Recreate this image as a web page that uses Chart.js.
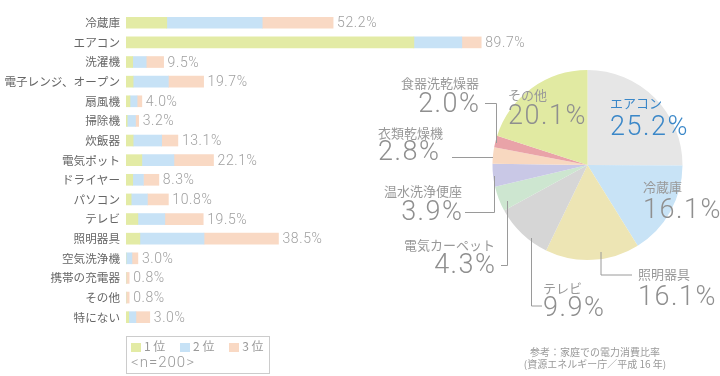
<!DOCTYPE html>
<html>
<head>
<meta charset="utf-8">
<script src="https://cdn.jsdelivr.net/npm/chart.js@4/dist/chart.umd.min.js"></script>
<style>
  body { margin: 0; background: #fff; font-family: 'Noto Sans CJK JP', sans-serif; }
  #wrap { position: relative; width: 720px; height: 376px; overflow: hidden; }
  canvas { position: absolute; left: 0; top: 0; }
  #legend { position: absolute; left: 126px; top: 336px; width: 142px; height: 36px; border: 1px solid #ccc; color: #999; }
  #legend .row { position: absolute; left: 4px; top: 2px; font-size: 12px; line-height: 14px; white-space: nowrap; }
  #legend .sw { display: inline-block; width: 10px; height: 9px; margin-right: 3px; vertical-align: -1px; }
  #legend .it { margin-right: 12px; }
  #legend .n { position: absolute; left: 4px; top: 16px; font-size: 15px; line-height: 18px; letter-spacing: 1px; color: #999; font-family: Roboto, sans-serif; font-weight: 300; }
  #note { position: absolute; left: 510px; top: 346px; width: 170px; text-align: center; font-size: 10px; line-height: 12px; color: #999; }
</style>
</head>
<body>
<div id="wrap">
  <canvas id="barChart" width="720" height="376"></canvas>
  <canvas id="pieChart" width="720" height="376"></canvas>
  <div id="legend">
    <div class="row">
      <span class="it"><span class="sw" style="background:#e3eba5"></span>1 位</span>
      <span class="it"><span class="sw" style="background:#c7e2f6"></span>2 位</span>
      <span class="it" style="margin-right:0"><span class="sw" style="background:#f9d9c4"></span>3 位</span>
    </div>
    <div class="n">&lt;n=200&gt;</div>
  </div>
  <div id="note">参考：家庭での電力消費比率<br>(資源エネルギー庁／平成 16 年)</div>
</div>
<script>
var categories = ['冷蔵庫', 'エアコン', '洗濯機', '電子レンジ、オープン', '扇風機', '掃除機', '炊飯器', '電気ポット',
  'ドライヤー', 'パソコン', 'テレビ', '照明器具', '空気洗浄機', '携帯の充電器', 'その他', '特にない'];
var rank1 = [10.3, 72.7, 1.7, 1.8, 1.0, 0.3, 1.8, 4.0, 1.7, 1.3, 3.0, 3.5, 0, 0, 0, 0.7];
var rank2 = [24.1, 12.1, 3.4, 8.9, 1.8, 2.1, 7.2, 8.1, 2.7, 4.1, 6.8, 16.2, 1.5, 0, 0, 1.8];
var rank3 = [17.9, 4.9, 4.4, 8.9, 1.2, 0.8, 4.1, 10.0, 3.9, 5.3, 9.7, 18.8, 1.5, 0.8, 0.8, 3.5];
var totalLabels = ['52.2%', '89.7%', '9.5%', '19.7%', '4.0%', '3.2%', '13.1%', '22.1%',
  '8.3%', '10.8%', '19.5%', '38.5%', '3.0%', '0.8%', '0.8%', '3.0%'];

var pieLabels = ['エアコン', '冷蔵庫', '照明器具', 'テレビ', '電気カーペット', '温水洗浄便座', '衣類乾燥機', '食器洗乾燥器', 'その他'];
var pieValues = [25.2, 16.1, 16.1, 9.9, 4.3, 3.9, 2.8, 2.0, 20.1];
var pieColors = ['#e6e6e6', '#c8e3f6', '#ede5b4', '#d6d6d6', '#cde6d0', '#c9c8e6', '#f8d8c0', '#e9a3a8', '#e1eaa2'];

Chart.defaults.font.family = "'Noto Sans CJK JP', sans-serif";
var numFont = "Roboto, 'Noto Sans CJK JP', sans-serif";

// total label at the end of each bar
var totalsPlugin = {
  id: 'totals',
  afterDatasetsDraw: function(chart) {
    var ctx = chart.ctx;
    var xs = chart.scales.x, ys = chart.scales.y;
    ctx.save();
    ctx.font = '300 14px ' + numFont;
    ctx.letterSpacing = '0.6px';
    ctx.fillStyle = '#a0a0a0';
    ctx.textBaseline = 'middle';
    for (var i = 0; i < categories.length; i++) {
      var t = rank1[i] + rank2[i] + rank3[i];
      ctx.fillText(totalLabels[i], xs.getPixelForValue(t) + 4, ys.getPixelForValue(i) + 1);
    }
    ctx.restore();
  }
};

var barChart = new Chart(document.getElementById('barChart'), {
  type: 'bar',
  data: {
    labels: categories,
    datasets: [
      { label: '1位', data: rank1, backgroundColor: '#e3eba5' },
      { label: '2位', data: rank2, backgroundColor: '#c7e2f6' },
      { label: '3位', data: rank3, backgroundColor: '#f9d9c4' }
    ]
  },
  options: {
    indexAxis: 'y',
    responsive: false,
    animation: false,
    barThickness: 11,
    layout: { padding: { left: 0, right: 198, top: 0, bottom: 49 } },
    scales: {
      x: { stacked: true, min: 0, max: 100, display: false },
      y: {
        stacked: true,
        grid: { display: false, drawTicks: false },
        border: { display: false },
        ticks: { autoSkip: false, color: '#666', font: { size: 11.6 }, padding: 6 },
        afterFit: function(s) { s.width = 126; }
      }
    },
    plugins: { legend: { display: false }, tooltip: { enabled: false } }
  },
  plugins: [totalsPlugin]
});

// label positions for the pie (layout only)
var pieText = [
  { x: 610, ny: 103, py: 127, align: 'left', color: '#3a87c8' },
  { x: 643, ny: 187, py: 210, align: 'left' },
  { x: 638, ny: 274, py: 297, align: 'left' },
  { x: 543, ny: 288, py: 308, align: 'left' },
  { x: 495, ny: 245, py: 265, align: 'right' },
  { x: 462, ny: 191, py: 212, align: 'right' },
  { x: 378, ny: 133, py: 152, align: 'left' },
  { x: 479, ny: 83, py: 104, align: 'right' },
  { x: 508, ny: 95, py: 116, align: 'left' }
];
var leaders = [
  [[601, 252], [601, 275], [632, 275]],
  [[531.5, 238], [531.5, 306], [542, 306]],
  [[507.5, 201], [507.5, 265.5], [501, 265.5]],
  [[494.5, 176], [494.5, 212.5], [465, 212.5]],
  [[493, 157.5], [452, 157.5]],
  [[496.5, 143], [496.5, 103.5], [485, 103.5]]
];

var pieLabelPlugin = {
  id: 'pieText',
  afterDraw: function(chart) {
    var ctx = chart.ctx;
    ctx.save();
    ctx.strokeStyle = '#9a9a9a';
    ctx.lineWidth = 1;
    leaders.forEach(function(l) {
      ctx.beginPath();
      ctx.moveTo(l[0][0], l[0][1]);
      for (var k = 1; k < l.length; k++) ctx.lineTo(l[k][0], l[k][1]);
      ctx.stroke();
    });
    ctx.textBaseline = 'middle';
    pieText.forEach(function(p, i) {
      ctx.textAlign = p.align;
      ctx.fillStyle = p.color || '#999';
      ctx.letterSpacing = '0px';
      ctx.font = "13px 'Noto Sans CJK JP', sans-serif";
      ctx.fillText(pieLabels[i], p.x, p.ny);
      ctx.fillStyle = p.color || '#8f8f8f';
      ctx.font = '300 27px ' + numFont;
      ctx.letterSpacing = '1.5px';
      // right-aligned text: letterSpacing adds trailing space, shift back
      var x = p.align === 'right' ? p.x + 1.5 : p.x;
      ctx.fillText(pieValues[i].toFixed(1) + '%', x, p.py + 1);
    });
    ctx.restore();
  }
};

var pieChart = new Chart(document.getElementById('pieChart'), {
  type: 'pie',
  data: {
    labels: pieLabels,
    datasets: [{ data: pieValues, backgroundColor: pieColors, borderWidth: 0 }]
  },
  options: {
    responsive: false,
    animation: false,
    layout: { padding: { left: 492.5, right: 37.5, top: 70, bottom: 116 } },
    plugins: { legend: { display: false }, tooltip: { enabled: false } }
  },
  plugins: [pieLabelPlugin]
});
</script>
</body>
</html>
